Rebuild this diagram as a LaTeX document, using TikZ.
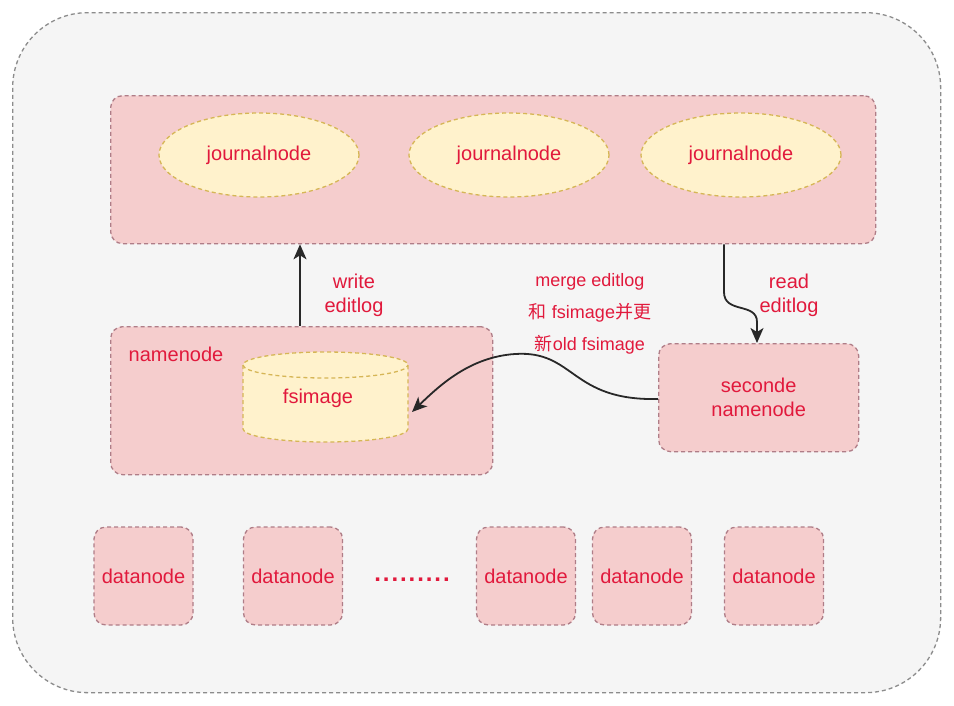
\documentclass[tikz,border=0pt]{standalone}
\usepackage{fontspec}
\setmainfont{Liberation Sans}
\newfontfamily\cjk{Noto Sans CJK SC}
\usetikzlibrary{arrows.meta,calc,shapes.geometric}
\definecolor{txtred}{RGB}{225,25,60}
\definecolor{outerfill}{RGB}{245,245,245}
\definecolor{outerline}{RGB}{140,140,140}
\definecolor{pinkfill}{RGB}{245,205,205}
\definecolor{pinkline}{RGB}{175,125,135}
\definecolor{yelfill}{RGB}{255,242,204}
\definecolor{yelline}{RGB}{214,182,86}
\definecolor{arrline}{RGB}{40,40,40}
\tikzset{
  x=1pt,y=-1pt,
  dsh/.style={dash pattern=on 4pt off 3pt, line width=1.3pt},
  outerbox/.style={dsh, draw=outerline, fill=outerfill, rounded corners=75pt},
  pinkbox/.style={dsh, draw=pinkline, fill=pinkfill, rounded corners=12pt, text=txtred, font=\fontsize{20}{24}\selectfont, align=center, inner sep=0pt},
  jnode/.style={ellipse, dsh, draw=yelline, fill=yelfill, text=txtred, font=\fontsize{20}{24}\selectfont, minimum width=200pt, minimum height=84pt, inner sep=0pt},
  lbl/.style={text=txtred, font=\fontsize{20}{24}\selectfont, align=center, inner sep=0pt},
  mlbl/.style={text=txtred, font=\fontsize{18}{32}\selectfont, align=center, inner sep=0pt},
  arr/.style={draw=arrline, line width=1.8pt, -{Stealth[length=15pt,width=13pt,inset=4pt]}},
}
\begin{document}
\begin{tikzpicture}
\useasboundingbox (0,0) rectangle (954,705);
\fill[white] (0,0) rectangle (954,705);
% outer container
\node[outerbox, minimum width=928pt, minimum height=680pt, anchor=north west] (outer) at (12,12) {};
% journal container
\node[pinkbox, minimum width=765pt, minimum height=148pt, anchor=north west] (jbox) at (110,95) {};
\node[jnode] (j1) at (259,155) {journalnode};
\node[jnode] (j2) at (509,155) {journalnode};
\node[jnode] (j3) at (741,155) {journalnode};
% namenode
\node[pinkbox, minimum width=382pt, minimum height=148pt, anchor=north west] (nn) at (110,326) {};
\node[lbl] (nnlbl) at (176,354) {namenode};
% fsimage cylinder
\path[dsh, draw=yelline, fill=yelfill] (243,365) -- (243,429)
  arc[start angle=180, end angle=360, x radius=82.5pt, y radius=13pt]
  -- (408,365)
  arc[start angle=0, end angle=180, x radius=82.5pt, y radius=13pt] -- cycle;
\draw[dsh, draw=yelline] (243,365) arc[start angle=180, end angle=360, x radius=82.5pt, y radius=13pt];
\node[lbl, minimum width=165pt, minimum height=92pt] (fs) at (325.5,396) {};
\node[lbl] (fstxt) at (318,398) {fsimage};
% seconde namenode
\node[pinkbox, minimum width=200pt, minimum height=108pt, anchor=north west] (snn) at (658,343) {seconde\\namenode};
% datanodes
\foreach \n/\xx in {d1/143.5, d2/293, d3/526, d4/642, d5/774}{
  \node[pinkbox, minimum width=99pt, minimum height=98pt] (\n) at (\xx,576) {datanode};
}
\node[text=txtred, font=\fontsize{24}{24}\selectfont\bfseries\addfontfeature{LetterSpace=8}, inner sep=0pt] (dots) at (412,580) {.........};
% arrows
\coordinate (wx) at (300,0);
\draw[arr] (nn.north -| wx) -- (jbox.south -| wx);
\node[lbl] (wlbl) at (354,295) {write\\editlog};
\coordinate (rx) at (724,0);
\coordinate (rx2) at (757,0);
\draw[arr] (jbox.south -| rx) -- (724,292) .. controls (724,314) and (757,302) .. (757,322) -- (snn.north -| rx2);
\node[lbl] (rlbl) at (789,295) {read\\editlog};
\coordinate (mend) at (412,412);
\draw[arr] (snn.west |- 0,399) .. controls (570,401) and (575,350) .. (515,354) .. controls (470,357) and (440,385) .. (mend);
\node[mlbl] (mlbl) at (590,314) {merge editlog\\{\cjk 和} fsimage{\cjk 并更}\\{\cjk 新}old fsimage};
\end{tikzpicture}
\end{document}
